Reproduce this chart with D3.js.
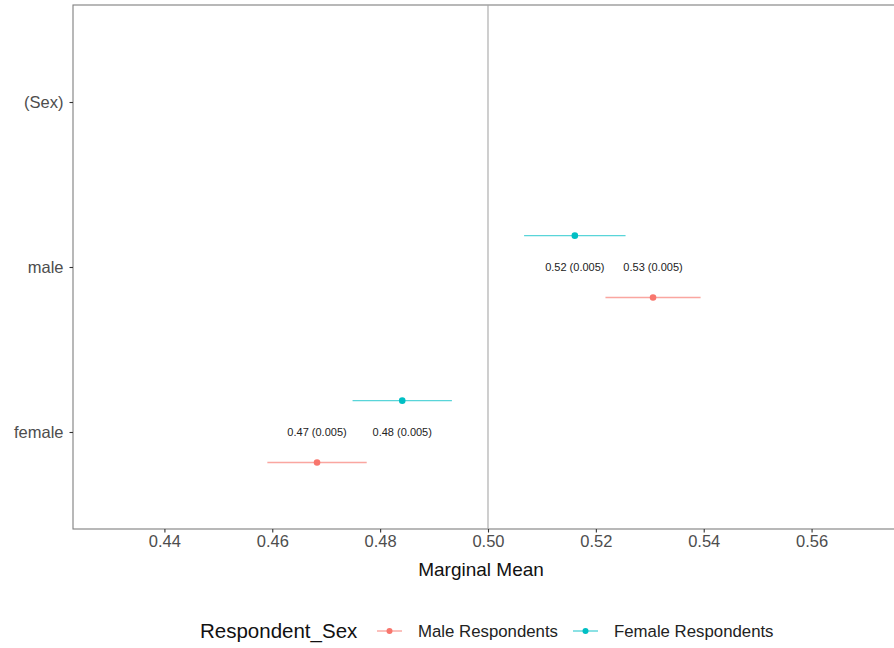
<!DOCTYPE html>
<html>
<head>
<meta charset="utf-8">
<script src="https://cdn.jsdelivr.net/npm/d3@7"></script>
<style>
  html, body { margin: 0; padding: 0; background: #fff; }
  svg { display: block; font-family: "Liberation Sans", Arial, Helvetica, sans-serif; }
</style>
</head>
<body>
<svg id="chart" width="894" height="648"></svg>
<script>
// Levels on the vertical axis (bottom to top)
const levels = ["female", "male", "(Sex)"];
// Respondent groups
const groups = ["Male Respondents", "Female Respondents"];
const groupColors = ["#F8766D", "#00BFC4"];
// Marginal means per level, one array per group (female, male)
const maleRespEstimate = [0.4683, 0.5306];
const femaleRespEstimate = [0.4841, 0.5161];
// Standard errors per level
const maleRespSE = [0.0047, 0.0045];
const femaleRespSE = [0.0047, 0.0048];
// Text labels drawn next to the estimates
const maleRespLabel = ["0.47 (0.005)", "0.53 (0.005)"];
const femaleRespLabel = ["0.48 (0.005)", "0.52 (0.005)"];
// Axis ticks
const xTicks = [0.44, 0.46, 0.48, 0.50, 0.52, 0.54, 0.56];

const estLevels = ["female", "male"];
const rows = [];
estLevels.forEach((lv, i) => {
  rows.push({ level: lv, group: 0, est: maleRespEstimate[i], se: maleRespSE[i], label: maleRespLabel[i] });
  rows.push({ level: lv, group: 1, est: femaleRespEstimate[i], se: femaleRespSE[i], label: femaleRespLabel[i] });
});

const svg = d3.select("#chart");
const panel = { left: 73, top: 5, right: 960, bottom: 529 };

const x = d3.scaleLinear().domain([0.42305, 0.5 + (960 - 488) / 5393]).range([panel.left, panel.right]);
const y = d3.scaleLinear().domain([0.412, 3.588]).range([panel.bottom, panel.top]);
const levelPos = lv => levels.indexOf(lv) + 1;
const dodge = [-0.185, 0.19];

const axisColor = "#4d4d4d";
const font = "\"Liberation Sans\", Arial, sans-serif";

// Panel border
svg.append("rect")
  .attr("x", panel.left).attr("y", panel.top)
  .attr("width", panel.right - panel.left).attr("height", panel.bottom - panel.top)
  .attr("fill", "none").attr("stroke", "#7f7f7f").attr("stroke-width", 1.1);

// Reference line at 0.5
svg.append("line")
  .attr("x1", x(0.5)).attr("x2", x(0.5))
  .attr("y1", panel.top).attr("y2", panel.bottom)
  .attr("stroke", "#a6a6a6").attr("stroke-width", 1.1);

// X axis
const xAxis = svg.append("g")
  .attr("transform", `translate(0,${panel.bottom})`)
  .call(d3.axisBottom(x).tickValues(xTicks).tickFormat(d3.format(".2f")).tickSize(3.5).tickPadding(3));
xAxis.select(".domain").remove();
xAxis.selectAll("line").attr("stroke", "#333").attr("stroke-width", 1.1);
xAxis.selectAll("text").attr("fill", axisColor).attr("font-size", 16.5).attr("font-family", font);

// Y axis
const yAxis = svg.append("g")
  .attr("transform", `translate(${panel.left},0)`)
  .call(d3.axisLeft(y).tickValues([1, 2, 3]).tickFormat(d => levels[d - 1]).tickSize(3.5).tickPadding(6));
yAxis.select(".domain").remove();
yAxis.selectAll("line").attr("stroke", "#333").attr("stroke-width", 1.1);
yAxis.selectAll("text").attr("fill", axisColor).attr("font-size", 16.5).attr("font-family", font);

// Confidence intervals
const marks = svg.append("g");
marks.selectAll("line.ci").data(rows).join("line")
  .attr("class", "ci")
  .attr("x1", d => x(d.est - 1.96 * d.se))
  .attr("x2", d => x(d.est + 1.96 * d.se))
  .attr("y1", d => y(levelPos(d.level) + dodge[d.group]))
  .attr("y2", d => y(levelPos(d.level) + dodge[d.group]))
  .attr("stroke", d => groupColors[d.group])
  .attr("stroke-opacity", 0.65)
  .attr("stroke-width", 1.4);

// Point estimates
marks.selectAll("circle.pt").data(rows).join("circle")
  .attr("class", "pt")
  .attr("cx", d => x(d.est))
  .attr("cy", d => y(levelPos(d.level) + dodge[d.group]))
  .attr("r", 3.3)
  .attr("fill", d => groupColors[d.group]);

// Estimate labels
marks.selectAll("text.lab").data(rows).join("text")
  .attr("class", "lab")
  .attr("x", d => x(d.est))
  .attr("y", d => y(levelPos(d.level)))
  .attr("dy", "0.35em")
  .attr("text-anchor", "middle")
  .attr("font-size", 11)
  .attr("fill", "#222")
  .text(d => d.label);

// Axis title
svg.append("text")
  .attr("x", 481).attr("y", 576)
  .attr("text-anchor", "middle")
  .attr("font-size", 19)
  .attr("fill", "#111")
  .text("Marginal Mean");

// Legend
const legend = svg.append("g").attr("transform", "translate(0,631)");
legend.append("text")
  .attr("x", 200).attr("y", 0).attr("dy", "0.35em")
  .attr("font-size", 20.5).attr("fill", "#111")
  .text("Respondent_Sex");
const keyX = [377, 573];
const keyLabelX = [418, 614];
groups.forEach((g, i) => {
  legend.append("line")
    .attr("x1", keyX[i]).attr("x2", keyX[i] + 25)
    .attr("y1", 0).attr("y2", 0)
    .attr("stroke", groupColors[i]).attr("stroke-opacity", 0.65).attr("stroke-width", 1.4);
  legend.append("circle")
    .attr("cx", keyX[i] + 12.5).attr("cy", 0).attr("r", 3)
    .attr("fill", groupColors[i]);
  legend.append("text")
    .attr("x", keyLabelX[i]).attr("y", 0).attr("dy", "0.35em")
    .attr("font-size", 16.8).attr("fill", "#222")
    .text(g);
});
</script>
</body>
</html>
